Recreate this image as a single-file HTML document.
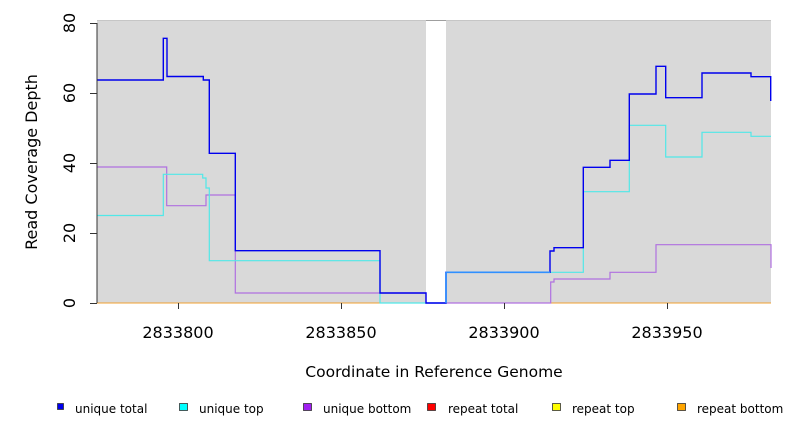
<!DOCTYPE html>
<html><head><style>body{margin:0;background:#fff}</style></head><body>
<svg width="792" height="432" xmlns="http://www.w3.org/2000/svg" font-family="DejaVu Sans, Liberation Sans, sans-serif">
<rect x="97" y="20" width="329" height="283" fill="#d9d9d9"/>
<rect x="446" y="20" width="325" height="283" fill="#d9d9d9"/>
<line x1="426" y1="20.5" x2="446" y2="20.5" stroke="#777" stroke-width="1"/>
<line x1="97" y1="20.5" x2="771" y2="20.5" stroke="#bbb" stroke-width="1" opacity="0.6"/>
<line x1="97" y1="303" x2="771" y2="303" stroke="#f0a030" stroke-width="1"/>
<polyline fill="none" stroke="#b070e0" stroke-width="1.2" points="97,167 166.7,167 166.7,205.7 206,205.7 206,195 235.3,195 235.3,293 426,293 426,303 550.7,303 550.7,282 554,282 554,279 610,279 610,272.3 656,272.3 656,244.7 771,244.7 771,268"/>
<polyline fill="none" stroke="#50e8e8" stroke-width="1.2" points="97,215.5 163.3,215.5 163.3,174.3 202.7,174.3 202.7,178 206,178 206,188 209.3,188 209.3,260.7 380,260.7 380,303 446,303 446,272.3 583.3,272.3 583.3,191.7 629.3,191.7 629.3,125.3 665.7,125.3 665.7,157 702,157 702,132.3 751,132.3 751,136.3 771,136.3"/>
<polyline fill="none" stroke="#0000ee" stroke-width="1.4" points="97,80 163.3,80 163.3,38.3 167,38.3 167,76.5 203.3,76.5 203.3,80 209.3,80 209.3,153.3 235.3,153.3 235.3,250.7 380,250.7 380,293 426,293 426,303 446,303 446,272.3 550,272.3 550,251 554,251 554,247.7 583.3,247.7 583.3,167.3 610,167.3 610,160.3 629.3,160.3 629.3,94 656,94 656,66.3 665.7,66.3 665.7,97.7 702,97.7 702,73 751,73 751,76.7 770.7,76.7 770.7,101"/>
<line x1="446" y1="303" x2="446" y2="272.3" stroke="#3090ff" stroke-width="1.6"/>
<line x1="446" y1="272.3" x2="550" y2="272.3" stroke="#3090ff" stroke-width="1.6"/>
<g stroke="#333" stroke-width="1">
<line x1="97" y1="23" x2="97" y2="303"/>
<line x1="90" y1="23.5" x2="97" y2="23.5"/><line x1="90" y1="93.5" x2="97" y2="93.5"/><line x1="90" y1="163.5" x2="97" y2="163.5"/><line x1="90" y1="233.5" x2="97" y2="233.5"/><line x1="90" y1="303.5" x2="97" y2="303.5"/>
<line x1="178.5" y1="303" x2="178.5" y2="309"/><line x1="341.5" y1="303" x2="341.5" y2="309"/><line x1="504.5" y1="303" x2="504.5" y2="309"/><line x1="667.5" y1="303" x2="667.5" y2="309"/>
</g>
<g font-size="16" fill="#000" text-anchor="middle">
<text transform="translate(75,23) rotate(-90)">80</text>
<text transform="translate(75,93) rotate(-90)">60</text>
<text transform="translate(75,163) rotate(-90)">40</text>
<text transform="translate(75,233) rotate(-90)">20</text>
<text transform="translate(75,303) rotate(-90)">0</text>
<text transform="translate(37,162) rotate(-90)" font-size="16">Read Coverage Depth</text>
<text x="178" y="338">2833800</text>
<text x="341" y="338">2833850</text>
<text x="504" y="338">2833900</text>
<text x="667" y="338">2833950</text>
<text x="434" y="377" font-size="15.5">Coordinate in Reference Genome</text>
</g>
<g font-size="12" fill="#000" stroke="#333" stroke-width="0.8">
<rect x="57.5" y="403.5" width="6" height="6" fill="#0000ee"/>
<rect x="179.5" y="403.5" width="8" height="7" fill="#00ffff"/>
<rect x="303.5" y="403.5" width="8" height="7" fill="#a020f0"/>
<rect x="427.5" y="403.5" width="8" height="7" fill="#ff0000"/>
<rect x="552.5" y="403.5" width="8" height="7" fill="#ffff00"/>
<rect x="677.5" y="403.5" width="8" height="7" fill="#ffa500"/>
</g>
<g font-size="12" fill="#000">
<text x="75" y="413">unique total</text>
<text x="199" y="413">unique top</text>
<text x="323" y="413">unique bottom</text>
<text x="448" y="413">repeat total</text>
<text x="572" y="413">repeat top</text>
<text x="697" y="413">repeat bottom</text>
</g>
</svg>
</body></html>
